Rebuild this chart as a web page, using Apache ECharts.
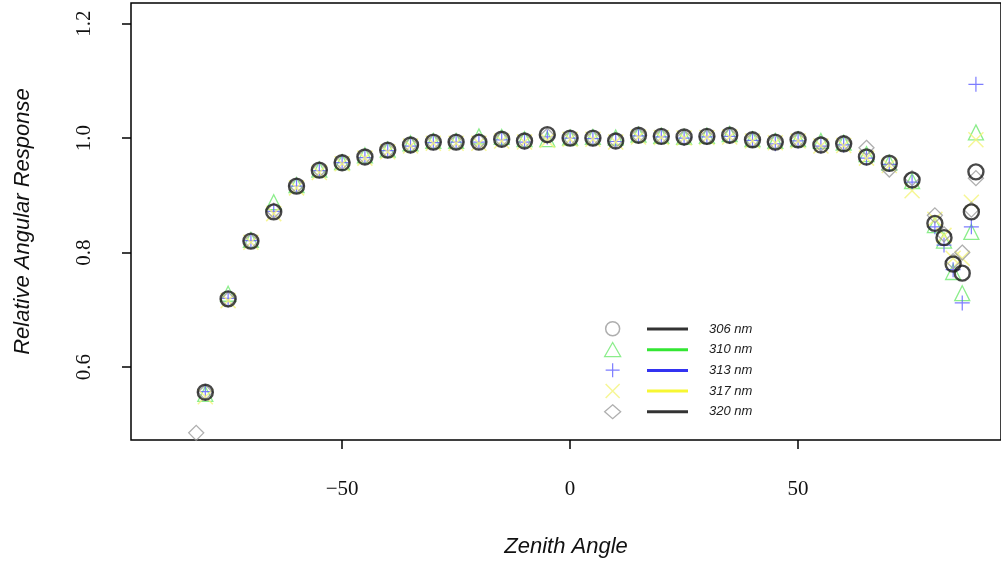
<!DOCTYPE html>
<html>
<head>
<meta charset="utf-8">
<script src="https://cdn.jsdelivr.net/npm/echarts@6/dist/echarts.min.js"></script>
<style>
  html, body { margin: 0; padding: 0; background: #fff; }
  #chart { width: 1001px; height: 570px; }
</style>
</head>
<body>
<div id="chart"></div>
<script>
// zenith angles (deg)
const angles = [-82, -80, -75, -70, -65, -60, -55, -50, -45, -40, -35, -30, -25, -20, -15, -10, -5, 0,
    5, 10, 15, 20, 25, 30, 35, 40, 45, 50, 55, 60, 65, 70, 75, 80, 82, 84, 86, 88, 89];

const r306 = [null, 0.556, 0.719, 0.820, 0.871, 0.916, 0.944, 0.957, 0.967, 0.979, 0.988, 0.993, 0.993, 0.993, 0.998, 0.995, 1.006, 1.000,
    1.000, 0.995, 1.005, 1.003, 1.002, 1.003, 1.005, 0.997, 0.993, 0.997, 0.988, 0.990, 0.967, 0.956, 0.927, 0.851, 0.826, 0.780, 0.764, 0.871, 0.941];
const r310 = [null, 0.553, 0.728, 0.822, 0.888, 0.918, 0.945, 0.958, 0.970, 0.980, 0.991, 0.995, 0.995, 1.003, 1.002, 0.998, 0.998, 1.001,
    1.002, 1.001, 1.006, 1.004, 1.002, 1.004, 1.007, 0.998, 0.995, 0.998, 0.995, 0.992, 0.972, 0.957, 0.925, 0.848, 0.821, 0.766, 0.729, 0.836, 1.010];
const r313 = [null, 0.557, 0.720, 0.821, 0.872, 0.916, 0.943, 0.957, 0.966, 0.978, 0.986, 0.992, 0.993, 0.993, 0.997, 0.993, 1.002, 1.000,
    0.999, 0.994, 1.004, 1.002, 1.000, 1.002, 1.003, 0.996, 0.990, 0.995, 0.986, 0.988, 0.965, 0.954, 0.923, 0.845, 0.813, 0.770, 0.712, 0.845, 1.094];
const r317 = [null, 0.548, 0.716, 0.818, 0.868, 0.913, 0.940, 0.955, 0.965, 0.976, 0.986, 0.991, 0.991, 0.991, 0.995, 0.993, 0.996, 0.998,
    0.998, 0.993, 1.002, 1.001, 1.000, 1.001, 1.002, 0.995, 0.992, 0.995, 0.986, 0.987, 0.965, 0.952, 0.908, 0.858, 0.830, 0.790, 0.790, 0.888, 0.997];
const r320 = [0.485, 0.556, 0.718, 0.820, 0.873, 0.917, 0.945, 0.958, 0.968, 0.979, 0.988, 0.993, 0.993, 0.994, 0.998, 0.996, 1.004, 1.000,
    1.000, 0.996, 1.005, 1.003, 1.001, 1.002, 1.004, 0.997, 0.993, 0.997, 0.990, 0.991, 0.983, 0.945, 0.930, 0.865, 0.832, 0.785, 0.800, 0.875, 0.930];

const names = ['306 nm', '310 nm', '313 nm', '317 nm', '320 nm'];
const xTicks = [-50, 0, 50];
const yTicks = [0.6, 0.8, 1.0, 1.2];

const PLUS = 'path://M0,5L10,5M5,0L5,10';
const CROSS = 'path://M0,0L10,10M10,0L0,10';

function pairs(ys) {
    return angles.map((a, i) => [a, ys[i]]).filter(p => p[1] != null);
}

function mark(name, ys, symbol, color, width, z) {
    return {
        name: name,
        type: 'scatter',
        data: pairs(ys),
        symbol: symbol,
        symbolSize: 15,
        z: z,
        itemStyle: { color: 'transparent', borderColor: color, borderWidth: width },
        emphasis: { disabled: true }
    };
}

const chart = echarts.init(document.getElementById('chart'));
const serif = '"Liberation Serif", "DejaVu Serif", serif';
const sans = '"Liberation Sans", Arial, sans-serif';

const option = {
    backgroundColor: '#fff',
    animation: false,
    grid: {
        left: 131, right: 0, top: 3, bottom: 130,
        show: true, borderColor: '#000', borderWidth: 1.5
    },
    legend: [
        {
            left: 604, top: 321, orient: 'vertical', padding: 0,
            itemWidth: 16, itemHeight: 14, itemGap: 5.4,
            formatter: () => '',
            selectedMode: false,
            textStyle: { fontSize: 13, lineHeight: 14 },
            data: [
                { name: names[0], icon: 'circle', itemStyle: { borderColor: '#9a9a9a', borderWidth: 1.5 } },
                { name: names[1], icon: 'triangle', itemStyle: { borderColor: '#6fe86f', borderWidth: 1.3 } },
                { name: names[2], icon: PLUS, itemStyle: { borderColor: '#5b5bff', borderWidth: 1.2 } },
                { name: names[3], icon: CROSS, itemStyle: { borderColor: '#f4f47a', borderWidth: 1.5 } },
                { name: names[4], icon: 'diamond', itemStyle: { borderColor: '#9a9a9a', borderWidth: 1.3 } }
            ]
        },
        {
            left: 647, top: 322, orient: 'vertical', padding: 0,
            itemWidth: 41, itemHeight: 3, itemGap: 6.7,
            icon: 'rect',
            selectedMode: false,
            textStyle: { fontFamily: sans, fontStyle: 'italic', fontSize: 13, color: '#222', lineHeight: 14, padding: [0, 0, 0, 16] },
            data: [
                { name: names[0], itemStyle: { color: '#000', borderWidth: 0 } },
                { name: names[1], itemStyle: { color: '#00e000', borderWidth: 0 } },
                { name: names[2], itemStyle: { color: '#0000ee', borderWidth: 0 } },
                { name: names[3], itemStyle: { color: '#f5f500', borderWidth: 0 } },
                { name: names[4], itemStyle: { color: '#000', borderWidth: 0 } }
            ]
        }
    ],
    xAxis: {
        type: 'value',
        min: -96.3, max: 94.5,
        name: 'Zenith Angle',
        nameLocation: 'middle',
        nameGap: 96,
        nameTextStyle: { fontFamily: sans, fontStyle: 'italic', fontSize: 22, color: '#111' },
        axisLine: { show: false, onZero: false },
        splitLine: { show: false },
        axisTick: { show: true, length: 9, customValues: xTicks, lineStyle: { color: '#000', width: 1.5 } },
        axisLabel: { customValues: xTicks, margin: 39, fontFamily: serif, fontSize: 21, color: '#111',
            formatter: v => (v < 0 ? '\u2212' + Math.abs(v) : String(v)) }
    },
    yAxis: {
        type: 'value',
        min: 0.4725, max: 1.236,
        name: 'Relative Angular Response',
        nameLocation: 'middle',
        nameGap: 97,
        nameRotate: 90,
        nameTextStyle: { fontFamily: sans, fontStyle: 'italic', fontSize: 22, color: '#111' },
        axisLine: { show: false, onZero: false },
        splitLine: { show: false },
        axisTick: { show: true, length: 9, customValues: yTicks, lineStyle: { color: '#000', width: 1.5 } },
        axisLabel: { customValues: yTicks, margin: 36, rotate: 90, fontFamily: serif, fontSize: 21, color: '#111',
            formatter: v => v.toFixed(1) }
    },
    series: [
        mark(names[1], r310, 'triangle', '#6fe86f', 1.3, 2),
        mark(names[2], r313, PLUS, '#5b5bff', 1.2, 3),
        mark(names[3], r317, CROSS, '#f4f47a', 1.5, 4),
        mark(names[4], r320, 'diamond', '#9a9a9a', 1.3, 5),
        mark(names[0], r306, 'circle', '#1a1a1a', 2.4, 6)
    ]
};

chart.setOption(option);
</script>
</body>
</html>
